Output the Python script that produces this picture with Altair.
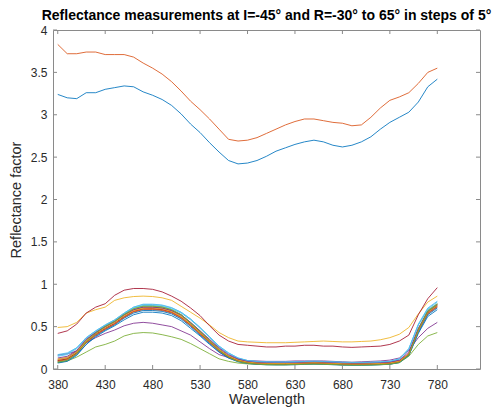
import altair as alt
import pandas as pd

# ---------------- data ----------------
wavelength = list(range(380, 781, 10))  # 41 sample wavelengths (nm)
angles = list(range(-30, 66, 5))        # R = -30 .. 65 step 5 (20 curves)
series_names = [f"R={a}°" for a in angles]

r_m30 = [3.24, 3.20, 3.19, 3.26, 3.26, 3.30, 3.32, 3.34, 3.33, 3.27,
         3.23, 3.18, 3.11, 3.01, 2.89, 2.79, 2.67, 2.56, 2.46, 2.42,
         2.43, 2.46, 2.51, 2.57, 2.61, 2.65, 2.68, 2.70, 2.68, 2.64,
         2.62, 2.64, 2.68, 2.74, 2.83, 2.91, 2.97, 3.03, 3.15, 3.33,
         3.42]
r_m25 = [3.83, 3.72, 3.72, 3.74, 3.74, 3.71, 3.71, 3.71, 3.68, 3.61,
         3.55, 3.48, 3.39, 3.28, 3.16, 3.06, 2.95, 2.83, 2.71, 2.69,
         2.70, 2.73, 2.78, 2.83, 2.88, 2.92, 2.95, 2.95, 2.93, 2.91,
         2.90, 2.87, 2.88, 2.97, 3.08, 3.17, 3.21, 3.26, 3.37, 3.50,
         3.55]
r_m20 = [0.49, 0.50, 0.55, 0.66, 0.70, 0.73, 0.81, 0.84, 0.855, 0.86,
         0.855, 0.84, 0.81, 0.74, 0.67, 0.60, 0.52, 0.43, 0.37, 0.33,
         0.32, 0.315, 0.31, 0.31, 0.31, 0.315, 0.32, 0.325, 0.33, 0.325,
         0.32, 0.32, 0.325, 0.33, 0.345, 0.37, 0.41, 0.49, 0.65, 0.79,
         0.86]
r_m15 = [0.165, 0.18, 0.21, 0.31, 0.37, 0.42, 0.46, 0.51, 0.54, 0.55,
         0.54, 0.52, 0.50, 0.45, 0.40, 0.32, 0.24, 0.17, 0.135, 0.11,
         0.10, 0.095, 0.09, 0.09, 0.09, 0.095, 0.095, 0.095, 0.095, 0.09,
         0.085, 0.08, 0.085, 0.09, 0.095, 0.105, 0.13, 0.22, 0.37, 0.48,
         0.55]
r_m10 = [0.075, 0.095, 0.14, 0.20, 0.26, 0.29, 0.33, 0.39, 0.42, 0.43,
         0.425, 0.405, 0.38, 0.35, 0.30, 0.24, 0.18, 0.12, 0.09, 0.07,
         0.06, 0.055, 0.05, 0.05, 0.05, 0.055, 0.06, 0.06, 0.06, 0.055,
         0.05, 0.05, 0.05, 0.05, 0.052, 0.058, 0.075, 0.15, 0.29, 0.39,
         0.43]
r_m5 = [0.17, 0.19, 0.25, 0.37, 0.45, 0.52, 0.58, 0.66, 0.73, 0.76,
        0.76, 0.75, 0.72, 0.67, 0.59, 0.49, 0.38, 0.27, 0.19, 0.13,
        0.10, 0.09, 0.085, 0.083, 0.083, 0.085, 0.09, 0.092, 0.09, 0.085,
        0.08, 0.078, 0.078, 0.08, 0.083, 0.09, 0.12, 0.24, 0.52, 0.70,
        0.77]
r_0 = [0.42, 0.45, 0.53, 0.66, 0.73, 0.77, 0.87, 0.93, 0.95, 0.95,
       0.94, 0.91, 0.86, 0.80, 0.72, 0.63, 0.51, 0.40, 0.33, 0.29,
       0.28, 0.27, 0.26, 0.26, 0.27, 0.27, 0.28, 0.28, 0.27, 0.27,
       0.26, 0.255, 0.26, 0.265, 0.27, 0.29, 0.33, 0.40, 0.64, 0.83,
       0.96]
r_5 = [0.08, 0.10, 0.17, 0.29, 0.38, 0.45, 0.51, 0.58, 0.64, 0.67,
       0.67, 0.66, 0.63, 0.57, 0.48, 0.39, 0.29, 0.20, 0.13, 0.09,
       0.07, 0.06, 0.055, 0.053, 0.053, 0.055, 0.06, 0.062, 0.06, 0.055,
       0.05, 0.048, 0.048, 0.05, 0.053, 0.06, 0.08, 0.16, 0.42, 0.62,
       0.70]
r_10 = [0.10, 0.12, 0.19, 0.31, 0.40, 0.47, 0.53, 0.61, 0.67, 0.70,
        0.70, 0.69, 0.66, 0.60, 0.51, 0.41, 0.31, 0.21, 0.14, 0.10,
        0.08, 0.07, 0.065, 0.063, 0.063, 0.065, 0.07, 0.073, 0.07, 0.065,
        0.06, 0.058, 0.058, 0.06, 0.063, 0.07, 0.09, 0.17, 0.45, 0.65,
        0.73]
r_15 = [0.12, 0.14, 0.21, 0.33, 0.42, 0.49, 0.55, 0.63, 0.69, 0.72,
        0.72, 0.71, 0.68, 0.62, 0.53, 0.43, 0.33, 0.23, 0.15, 0.11,
        0.085, 0.075, 0.07, 0.068, 0.068, 0.07, 0.075, 0.078, 0.075, 0.07,
        0.065, 0.063, 0.063, 0.065, 0.068, 0.075, 0.095, 0.18, 0.47, 0.68,
        0.76]
r_20 = [0.11, 0.13, 0.21, 0.34, 0.43, 0.50, 0.56, 0.64, 0.70, 0.73,
        0.73, 0.72, 0.69, 0.63, 0.54, 0.44, 0.34, 0.24, 0.16, 0.115,
        0.09, 0.08, 0.075, 0.073, 0.073, 0.075, 0.08, 0.082, 0.08, 0.075,
        0.07, 0.068, 0.068, 0.07, 0.073, 0.08, 0.10, 0.18, 0.46, 0.66,
        0.74]
r_25 = [0.09, 0.12, 0.20, 0.34, 0.43, 0.51, 0.57, 0.65, 0.715, 0.745,
        0.745, 0.735, 0.70, 0.64, 0.55, 0.45, 0.34, 0.23, 0.15, 0.10,
        0.075, 0.062, 0.057, 0.055, 0.055, 0.057, 0.06, 0.063, 0.06, 0.057,
        0.053, 0.05, 0.05, 0.052, 0.055, 0.06, 0.08, 0.17, 0.47, 0.69,
        0.77]
r_30 = [0.15, 0.17, 0.24, 0.36, 0.44, 0.51, 0.57, 0.65, 0.72, 0.75,
        0.75, 0.74, 0.71, 0.66, 0.58, 0.48, 0.37, 0.26, 0.18, 0.125,
        0.095, 0.085, 0.08, 0.078, 0.078, 0.08, 0.085, 0.088, 0.085, 0.08,
        0.076, 0.074, 0.074, 0.076, 0.08, 0.087, 0.115, 0.23, 0.52, 0.71,
        0.79]
r_35 = [0.10, 0.12, 0.19, 0.32, 0.41, 0.48, 0.54, 0.62, 0.68, 0.71,
        0.71, 0.70, 0.67, 0.61, 0.52, 0.42, 0.32, 0.22, 0.145, 0.10,
        0.08, 0.07, 0.065, 0.063, 0.063, 0.065, 0.07, 0.072, 0.07, 0.065,
        0.06, 0.058, 0.058, 0.06, 0.063, 0.07, 0.09, 0.175, 0.46, 0.67,
        0.75]
r_40 = [0.07, 0.09, 0.16, 0.29, 0.39, 0.46, 0.52, 0.60, 0.66, 0.69,
        0.69, 0.68, 0.65, 0.59, 0.50, 0.40, 0.30, 0.20, 0.13, 0.085,
        0.065, 0.055, 0.05, 0.048, 0.048, 0.05, 0.055, 0.058, 0.055, 0.05,
        0.046, 0.044, 0.044, 0.046, 0.05, 0.056, 0.075, 0.16, 0.43, 0.64,
        0.72]
r_45 = [0.09, 0.11, 0.18, 0.31, 0.40, 0.47, 0.53, 0.61, 0.68, 0.71,
        0.71, 0.70, 0.67, 0.61, 0.52, 0.42, 0.32, 0.22, 0.14, 0.095,
        0.072, 0.063, 0.06, 0.058, 0.058, 0.06, 0.064, 0.067, 0.064, 0.06,
        0.055, 0.053, 0.053, 0.055, 0.058, 0.065, 0.085, 0.17, 0.45, 0.66,
        0.74]
r_50 = [0.11, 0.13, 0.20, 0.33, 0.42, 0.49, 0.55, 0.63, 0.69, 0.72,
        0.725, 0.715, 0.68, 0.62, 0.53, 0.43, 0.33, 0.23, 0.155, 0.105,
        0.082, 0.072, 0.068, 0.066, 0.066, 0.068, 0.072, 0.075, 0.072, 0.068,
        0.063, 0.061, 0.061, 0.063, 0.066, 0.073, 0.093, 0.18, 0.46, 0.67,
        0.75]
r_55 = [0.13, 0.15, 0.22, 0.35, 0.43, 0.50, 0.56, 0.64, 0.70, 0.73,
        0.73, 0.72, 0.69, 0.64, 0.55, 0.45, 0.35, 0.25, 0.17, 0.12,
        0.093, 0.083, 0.078, 0.076, 0.076, 0.078, 0.083, 0.086, 0.083, 0.078,
        0.073, 0.071, 0.071, 0.073, 0.076, 0.083, 0.105, 0.20, 0.48, 0.68,
        0.76]
r_60 = [0.08, 0.10, 0.18, 0.32, 0.42, 0.50, 0.56, 0.64, 0.71, 0.74,
        0.74, 0.73, 0.70, 0.64, 0.54, 0.44, 0.33, 0.22, 0.14, 0.09,
        0.068, 0.057, 0.052, 0.05, 0.05, 0.052, 0.056, 0.059, 0.056, 0.052,
        0.048, 0.046, 0.046, 0.048, 0.051, 0.057, 0.077, 0.165, 0.46, 0.68,
        0.76]
r_65 = [0.16, 0.18, 0.25, 0.37, 0.45, 0.52, 0.58, 0.66, 0.73, 0.765,
        0.765, 0.755, 0.725, 0.67, 0.59, 0.49, 0.38, 0.27, 0.19, 0.13,
        0.10, 0.088, 0.083, 0.081, 0.081, 0.083, 0.088, 0.091, 0.088, 0.083,
        0.079, 0.077, 0.077, 0.079, 0.083, 0.09, 0.12, 0.24, 0.53, 0.72,
        0.80]

all_series = [r_m30, r_m25, r_m20, r_m15, r_m10, r_m5, r_0, r_5, r_10, r_15,
              r_20, r_25, r_30, r_35, r_40, r_45, r_50, r_55, r_60, r_65]

x_ticks = [380, 430, 480, 530, 580, 630, 680, 730, 780]
y_ticks = [0, 0.5, 1, 1.5, 2, 2.5, 3, 3.5, 4]

matlab_colors = ["#0072BD", "#D95319", "#EDB120", "#7E2F8E",
                 "#77AC30", "#4DBEEE", "#A2142F"]

# ---------------- build table ----------------
rows = []
for name, vals in zip(series_names, all_series):
    for w, v in zip(wavelength, vals):
        rows.append({"series": name, "wavelength": w, "reflectance": v})
df = pd.DataFrame(rows)
colors = [matlab_colors[i % len(matlab_colors)] for i in range(len(series_names))]

W, H = 427, 339
AXIS_COLOR = "#8a8a8a"
TEXT_COLOR = "#2a2a2a"
FONT = "Liberation Sans"

xscale = alt.Scale(domain=[375, 825], nice=False, zero=False)
yscale = alt.Scale(domain=[0, 4], nice=False, zero=False)

x_axis = alt.Axis(values=x_ticks, title="Wavelength", ticks=False,
                  domain=False, grid=False, labelPadding=10,
                  labelFontSize=12, titleFontSize=14.5,
                  titleFontWeight="normal", titlePadding=2,
                  labelColor=TEXT_COLOR, titleColor=TEXT_COLOR,
                  labelFont=FONT, titleFont=FONT,
                  labelExpr="'' + datum.value")
y_axis = alt.Axis(values=y_ticks, title="Reflectance factor", ticks=False,
                  domain=False, grid=False, labelPadding=6,
                  labelFontSize=12, titleFontSize=14.5,
                  titleFontWeight="normal", titlePadding=7,
                  labelColor=TEXT_COLOR, titleColor=TEXT_COLOR,
                  labelFont=FONT, titleFont=FONT,
                  labelExpr="'' + datum.value")

lines = alt.Chart(df).mark_line(strokeWidth=1, opacity=0.85, clip=True).encode(
    x=alt.X("wavelength:Q", scale=xscale, axis=x_axis),
    y=alt.Y("reflectance:Q", scale=yscale, axis=y_axis),
    color=alt.Color("series:N", scale=alt.Scale(domain=series_names, range=colors),
                    legend=None),
)

xt = pd.DataFrame({"t": x_ticks})
yt = pd.DataFrame({"t": y_ticks})
TL = 4
bottom_ticks = alt.Chart(xt).mark_rule(color=AXIS_COLOR, strokeWidth=1).encode(
    x=alt.X("t:Q", scale=xscale, axis=x_axis), y=alt.value(H), y2=alt.value(H - TL))
top_ticks = alt.Chart(xt).mark_rule(color=AXIS_COLOR, strokeWidth=1).encode(
    x=alt.X("t:Q", scale=xscale, axis=x_axis), y=alt.value(0), y2=alt.value(TL))
left_ticks = alt.Chart(yt).mark_rule(color=AXIS_COLOR, strokeWidth=1).encode(
    y=alt.Y("t:Q", scale=yscale, axis=y_axis), x=alt.value(0), x2=alt.value(TL))
right_ticks = alt.Chart(yt).mark_rule(color=AXIS_COLOR, strokeWidth=1).encode(
    y=alt.Y("t:Q", scale=yscale, axis=y_axis), x=alt.value(W), x2=alt.value(W - TL))

chart = alt.layer(lines, bottom_ticks, top_ticks, left_ticks, right_ticks).properties(
    width=W, height=H,
    title=alt.TitleParams(
        text="Reflectance measurements at I=-45° and R=-30° to 65° in steps of 5°",
        fontSize=14, fontWeight="bold", font=FONT, color="#000000",
        anchor="middle", frame="group", offset=1),
    autosize=alt.AutoSizeParams(type="none"),
    padding={"left": 53, "top": 30, "right": 14, "bottom": 41},
    background="white",
).configure_view(stroke=AXIS_COLOR, strokeWidth=1)

chart.save("out.html", embed_options={"renderer": "svg", "actions": False})
